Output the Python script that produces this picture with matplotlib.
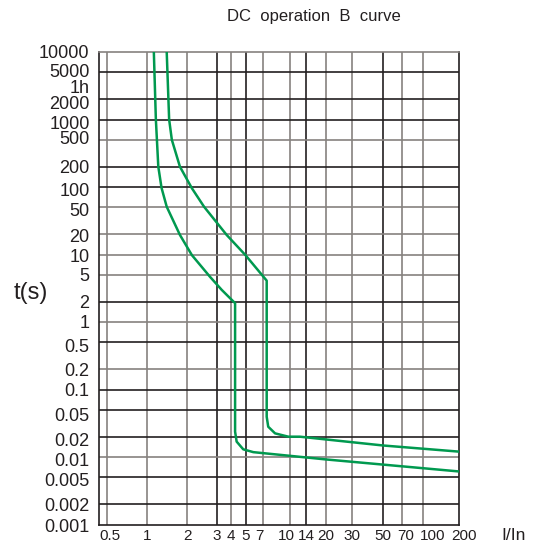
import numpy as np
import matplotlib
matplotlib.use('Agg')
import matplotlib.pyplot as plt
from matplotlib.transforms import ScaledTranslation

plt.rcParams['font.family'] = ['Liberation Sans Narrow', 'Liberation Sans', 'DejaVu Sans']

# axis ticks
x_ticks = [0.5, 1, 2, 3, 4, 5, 7, 10, 14, 20, 30, 50, 70, 100, 200]
x_labels = ['0.5', '1', '2', '3', '4', '5', '7', '10', '14', '20', '30', '50', '70', '100', '200']
y_ticks = [10000, 5000, 3600, 2000, 1000, 500, 200, 100, 50, 20, 10, 5, 2, 1,
           0.5, 0.2, 0.1, 0.05, 0.02, 0.01, 0.005, 0.002, 0.001]
y_labels = ['10000', '5000', '1h', '2000', '1000', '500', '200', '100', '50', '20', '10', '5', '2', '1',
            '0.5', '0.2', '0.1', '0.05', '0.02', '0.01', '0.005', '0.002', '0.001']

# lower tripping curve
lo_I = [1.12, 1.16, 1.21, 1.28, 1.40, 1.76, 2.13, 2.73, 3.32, 4.27, 4.27, 4.37, 4.82, 5.8, 7.03, 20, 200]
lo_t = [10000, 1000, 200, 97, 51, 19.5, 9.8, 4.7, 3.0, 1.9, 0.0237, 0.0169, 0.0130, 0.0118, 0.0114, 0.0092, 0.0061]

# upper tripping curve
hi_I = [1.40, 1.46, 1.53, 1.76, 2.13, 2.52, 3.68, 4.98, 7.35, 7.35, 7.5, 8.21, 9.78, 12.3, 50, 200]
hi_t = [10000, 1000, 500, 200, 96, 51, 19.5, 9.8, 4.1, 0.0395, 0.0281, 0.0224, 0.0200, 0.0200, 0.0148, 0.0120]

# the printed x axis is not a clean log scale: map grid values to their spacing on the sheet
scale_vals = np.log10([0.44] + x_ticks)
scale_pos = np.array([99.3, 106.7, 147.3, 187.3, 216.7, 230.7, 245.7, 263, 290,
                      306, 326, 352.3, 383.3, 401.7, 423.3, 459.3])


def fwd(x):
    x = np.clip(np.asarray(x, dtype=float), 1e-6, None)
    lx = np.log10(x)
    p = np.interp(lx, scale_vals, scale_pos)
    # linear extension outside the calibrated range
    s0 = (scale_pos[1] - scale_pos[0]) / (scale_vals[1] - scale_vals[0])
    s1 = (scale_pos[-1] - scale_pos[-2]) / (scale_vals[-1] - scale_vals[-2])
    p = np.where(lx < scale_vals[0], scale_pos[0] + (lx - scale_vals[0]) * s0, p)
    p = np.where(lx > scale_vals[-1], scale_pos[-1] + (lx - scale_vals[-1]) * s1, p)
    return p


def inv(p):
    p = np.asarray(p, dtype=float)
    return 10 ** np.interp(p, scale_pos, scale_vals)


BLACK = '#231f20'
GRAY = '#86827f'
GREEN = '#00994f'

x_grid_col = [GRAY, GRAY, GRAY, BLACK, GRAY, BLACK, GRAY, GRAY, BLACK, GRAY, GRAY, BLACK, GRAY, GRAY]
y_grid_col = {5000: BLACK, 2000: BLACK, 1000: BLACK, 500: GRAY, 200: BLACK, 100: BLACK, 50: GRAY,
              20: GRAY, 10: GRAY, 5: GRAY, 2: BLACK, 1: GRAY, 0.5: BLACK, 0.2: GRAY, 0.1: BLACK,
              0.05: BLACK, 0.02: BLACK, 0.01: GRAY, 0.005: BLACK, 0.002: BLACK}

# small nudges of tick labels (pixels), as printed on the sheet
x_lab_dx = {'0.5': 3, '7': -4, '10': -4, '70': 4, '100': 9, '200': 5}
y_lab_dy = {'10000': 1, '5000': 2, '1h': -4.5, '2000': -3.5, '1000': -3, '500': 2, '100': -2.5,
            '50': -2.3, '20': -1.4, '10': -1, '0.5': -3, '0.05': -5, '0.02': -3, '0.01': -3,
            '0.005': -2, '0.001': -1.5}

fig = plt.figure(figsize=(5.36, 5.51), dpi=100)
ax = fig.add_axes([99.3 / 536, 26.5 / 551, 360 / 536, 472.5 / 551])

ax.set_xscale('function', functions=(fwd, inv))
ax.set_yscale('log')
ax.set_xlim(0.44, 200)
ax.set_ylim(0.001, 10000)

# grid
for xv, c in zip(x_ticks[:-1], x_grid_col):
    ax.axvline(xv, color=c, lw=1.2, zorder=1)
for yv, c in y_grid_col.items():
    ax.axhline(yv, color=c, lw=1.2, zorder=1)

ax.plot(lo_I, lo_t, color=GREEN, lw=1.8, zorder=3)
ax.plot(hi_I, hi_t, color=GREEN, lw=1.8, zorder=3)

ax.set_xticks(x_ticks)
ax.set_xticklabels(x_labels, fontsize=11)
ax.set_yticks(y_ticks)
ax.set_yticklabels(y_labels, fontsize=13, va='center_baseline')
ax.minorticks_off()
ax.tick_params(axis='both', length=0, colors=BLACK)
ax.tick_params(axis='y', pad=7)
ax.tick_params(axis='x', pad=3)
for s in ax.spines.values():
    s.set_color(BLACK)
    s.set_linewidth(1.2)
ax.spines['top'].set_color(GRAY)

for lab in ax.get_xticklabels():
    dx = x_lab_dx.get(lab.get_text(), 0)
    if dx:
        lab.set_transform(lab.get_transform() + ScaledTranslation(dx / 100, 0, fig.dpi_scale_trans))
for lab in ax.get_yticklabels():
    dy = y_lab_dy.get(lab.get_text(), 0)
    if dy:
        lab.set_transform(lab.get_transform() + ScaledTranslation(0, dy / 100, fig.dpi_scale_trans))

fig.text(314 / 536, 1 - 16 / 551, 'DC  operation  B  curve', fontsize=12, color=BLACK,
         ha='center', va='center')
fig.text(31 / 536, 1 - 293 / 551, 't(s)', fontsize=17, color=BLACK, ha='center', va='center')
fig.text(514 / 536, 1 - 536 / 551, 'I/In', fontsize=12.5, color=BLACK, ha='center', va='center')

fig.savefig('out.png', dpi=100)
